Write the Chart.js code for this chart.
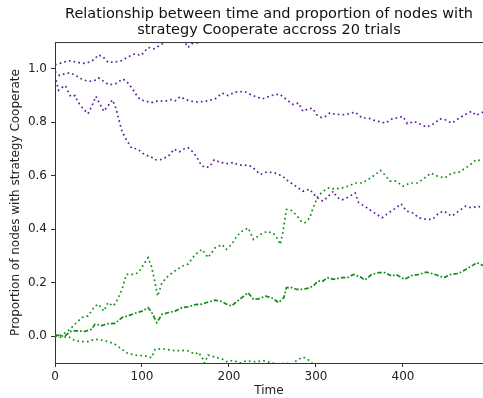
<!DOCTYPE html>
<html>
<head>
<meta charset="utf-8">
<script src="https://cdn.jsdelivr.net/npm/chart.js@4"></script>
<style>
  html, body { margin: 0; padding: 0; background: #fff; overflow: hidden; }
  #wrap { width: 483px; height: 398px; }
</style>
</head>
<body>
<div id="wrap"><canvas id="trialChart" width="483" height="398"></canvas></div>
<script>
// proportion of Cooperate nodes over time, pairs of [time, proportion]
const coopUpper = [[0,1.015],[5,1.02],[10,1.025],[17,1.03],[25,1.025],[32,1.02],[40,1.025],[45,1.035],[50,1.052],[55,1.045],[61,1.024],[68,1.025],[76,1.03],[84,1.045],[92,1.056],[99,1.05],[107,1.08],[114,1.075],[122,1.09],[128,1.105],[135,1.115],[142,1.12],[148,1.105],[153,1.08],[158,1.095],[164,1.098],[170,1.115],[180,1.13],[190,1.14],[200,1.15],[215,1.16],[230,1.17],[250,1.19],[270,1.18],[290,1.16],[310,1.15],[330,1.14],[350,1.16],[370,1.17],[390,1.15],[410,1.13],[430,1.14],[450,1.16],[470,1.18],[492,1.19]];
const coopMean = [[0,0.99],[5,0.975],[10,0.98],[17,0.985],[24,0.975],[30,0.963],[38,0.953],[45,0.955],[50,0.966],[55,0.955],[62,0.94],[70,0.945],[78,0.962],[83,0.95],[88,0.93],[93,0.905],[98,0.884],[104,0.88],[110,0.873],[118,0.88],[126,0.878],[133,0.885],[138,0.88],[144,0.896],[150,0.885],[155,0.88],[161,0.876],[172,0.878],[184,0.887],[192,0.909],[199,0.9],[207,0.913],[218,0.915],[226,0.902],[238,0.887],[249,0.9],[258,0.906],[266,0.885],[274,0.866],[280,0.872],[285,0.841],[291,0.85],[296,0.853],[301,0.828],[306,0.818],[311,0.822],[316,0.835],[322,0.83],[333,0.828],[345,0.838],[353,0.816],[360,0.816],[368,0.806],[380,0.797],[387,0.812],[395,0.818],[400,0.822],[405,0.795],[413,0.803],[421,0.791],[427,0.782],[437,0.797],[442,0.813],[448,0.81],[456,0.797],[463,0.812],[471,0.828],[479,0.841],[484,0.826],[492,0.838]];
const coopLower = [[0,0.975],[4,0.92],[8,0.93],[12,0.937],[15,0.915],[18,0.897],[23,0.9],[26,0.878],[30,0.86],[34,0.845],[38,0.832],[43,0.866],[47,0.897],[50,0.878],[56,0.841],[62,0.866],[66,0.884],[70,0.853],[74,0.803],[77,0.766],[82,0.735],[88,0.704],[95,0.7],[103,0.679],[110,0.672],[115,0.66],[121,0.66],[130,0.672],[137,0.7],[143,0.69],[148,0.7],[153,0.705],[158,0.69],[163,0.67],[168,0.64],[173,0.63],[178,0.635],[183,0.66],[190,0.65],[199,0.645],[205,0.65],[211,0.64],[218,0.64],[226,0.635],[236,0.605],[244,0.615],[253,0.61],[261,0.6],[268,0.58],[276,0.563],[285,0.542],[293,0.55],[296,0.536],[302,0.517],[308,0.505],[313,0.52],[320,0.542],[324,0.52],[330,0.51],[337,0.52],[345,0.536],[349,0.5],[356,0.486],[364,0.468],[376,0.443],[383,0.46],[392,0.48],[398,0.495],[404,0.468],[412,0.46],[418,0.443],[427,0.437],[434,0.437],[441,0.46],[447,0.468],[456,0.449],[464,0.468],[472,0.486],[479,0.48],[486,0.486],[492,0.48]];

// the other strategy, same three curves
const otherUpper = [[0,0.0],[8,0.005],[15,0.02],[23,0.045],[31,0.07],[38,0.076],[46,0.113],[50,0.12],[56,0.094],[61,0.126],[67,0.113],[71,0.132],[77,0.175],[82,0.231],[90,0.231],[96,0.238],[102,0.269],[107,0.294],[111,0.26],[115,0.2],[118,0.15],[123,0.2],[130,0.225],[138,0.245],[146,0.262],[153,0.27],[161,0.305],[169,0.325],[176,0.294],[184,0.33],[192,0.343],[197,0.325],[203,0.343],[209,0.374],[215,0.393],[222,0.405],[228,0.362],[236,0.38],[244,0.393],[253,0.38],[259,0.343],[262,0.39],[266,0.474],[272,0.47],[277,0.455],[283,0.43],[287,0.424],[293,0.443],[296,0.474],[302,0.523],[308,0.542],[315,0.555],[322,0.55],[330,0.555],[337,0.561],[345,0.573],[353,0.573],[360,0.586],[368,0.604],[374,0.62],[379,0.604],[385,0.58],[392,0.58],[400,0.561],[408,0.573],[417,0.573],[425,0.592],[432,0.61],[440,0.598],[448,0.592],[456,0.61],[464,0.613],[472,0.629],[480,0.648],[484,0.66],[492,0.655]];
const otherMean = [[0,0.005],[11,0.0],[19,0.02],[27,0.02],[34,0.018],[42,0.026],[46,0.045],[54,0.04],[61,0.047],[69,0.048],[77,0.07],[84,0.076],[92,0.086],[100,0.094],[107,0.107],[111,0.09],[117,0.051],[123,0.082],[130,0.088],[138,0.094],[146,0.107],[153,0.11],[161,0.118],[169,0.12],[176,0.128],[184,0.135],[192,0.13],[197,0.12],[203,0.113],[209,0.13],[217,0.15],[222,0.163],[228,0.138],[234,0.14],[242,0.15],[249,0.144],[257,0.126],[263,0.144],[266,0.182],[272,0.182],[278,0.175],[284,0.175],[291,0.18],[297,0.188],[302,0.206],[308,0.206],[313,0.219],[320,0.213],[330,0.219],[337,0.22],[343,0.231],[351,0.222],[356,0.21],[364,0.231],[372,0.238],[379,0.238],[387,0.225],[392,0.231],[402,0.213],[410,0.227],[418,0.231],[427,0.24],[437,0.231],[447,0.219],[455,0.231],[464,0.235],[472,0.25],[480,0.265],[485,0.275],[492,0.265]];
const otherLower = [[0,0.0],[8,-0.005],[15,0.0],[23,-0.017],[31,-0.02],[38,-0.02],[46,-0.011],[54,-0.015],[61,-0.02],[69,-0.03],[77,-0.049],[84,-0.065],[94,-0.071],[103,-0.073],[111,-0.08],[115,-0.049],[123,-0.047],[130,-0.05],[138,-0.054],[146,-0.053],[153,-0.055],[161,-0.067],[165,-0.06],[170,-0.085],[172,-0.1],[176,-0.07],[181,-0.075],[186,-0.08],[192,-0.085],[197,-0.095],[205,-0.09],[212,-0.1],[220,-0.092],[230,-0.095],[240,-0.092],[250,-0.1],[258,-0.105],[265,-0.1],[272,-0.105],[278,-0.09],[285,-0.078],[290,-0.085],[295,-0.1],[302,-0.115],[320,-0.12],[350,-0.13],[380,-0.14],[410,-0.13],[440,-0.14],[470,-0.15],[492,-0.14]];

const xTicks = [0, 100, 200, 300, 400];
const yTicks = [0.0, 0.2, 0.4, 0.6, 0.8, 1.0];

const PURPLE = '#5c1ea0';
const GREEN = '#138c13';
const DOTTED = [1.7, 3.1];
const DASHDOT = [4.5, 2, 1.7, 2];

function series(pairs, color, dash) {
  return {
    data: pairs.map(p => ({ x: p[0], y: p[1] })),
    borderColor: color,
    borderWidth: 1.7,
    borderDash: dash,
    pointRadius: 0,
    tension: 0,
    fill: false
  };
}

// top spine of the axes box
const frameTop = {
  id: 'frameTop',
  afterDraw(chart) {
    const { ctx, chartArea } = chart;
    ctx.save();
    ctx.strokeStyle = '#333';
    ctx.lineWidth = 1;
    ctx.beginPath();
    ctx.moveTo(chartArea.left, chartArea.top + 0.5);
    ctx.lineTo(chartArea.right, chartArea.top + 0.5);
    ctx.stroke();
    ctx.restore();
  }
};

const font = { family: '"DejaVu Sans", sans-serif', size: 12 };

new Chart(document.getElementById('trialChart'), {
  type: 'line',
  data: {
    datasets: [
      series(coopUpper, PURPLE, DOTTED),
      series(coopMean, PURPLE, DOTTED),
      series(coopLower, PURPLE, DOTTED),
      series(otherUpper, GREEN, DOTTED),
      series(otherMean, GREEN, DASHDOT),
      series(otherLower, GREEN, DOTTED)
    ]
  },
  options: {
    responsive: false,
    animation: false,
    layout: { padding: 0 },
    plugins: {
      legend: { display: false },
      tooltip: { enabled: false },
      title: {
        display: true,
        fullSize: false,
        text: ['Relationship between time and proportion of nodes with',
               'strategy Cooperate accross 20 trials'],
        color: '#111',
        font: { family: '"DejaVu Sans", sans-serif', size: 14.5, weight: 'normal', lineHeight: 1.05 },
        padding: { top: 7, bottom: 4.6 }
      }
    },
    scales: {
      x: {
        type: 'linear',
        min: 0,
        max: 492,
        afterBuildTicks: s => { s.ticks = xTicks.map(v => ({ value: v })); },
        afterFit: s => { s.height = 35; },
        grid: { drawOnChartArea: false, tickLength: 4, color: '#333' },
        border: { color: '#333', width: 1 },
        ticks: { color: '#222', font, padding: 3, maxRotation: 0 },
        title: { display: true, text: 'Time', color: '#222', font, padding: { top: 3, bottom: 0 } }
      },
      y: {
        type: 'linear',
        min: -0.1,
        max: 1.1,
        afterBuildTicks: s => { s.ticks = yTicks.map(v => ({ value: v })); },
        afterFit: s => { s.width = 55; },
        grid: { drawOnChartArea: false, tickLength: 4, color: '#333' },
        border: { color: '#333', width: 1 },
        ticks: { color: '#222', font, padding: 4, callback: v => v.toFixed(1) },
        title: {
          display: true,
          text: 'Proportion of nodes with strategy Cooperate',
          color: '#222',
          font,
          padding: { top: 9, bottom: 0 }
        }
      }
    }
  },
  plugins: [frameTop]
});
</script>
</body>
</html>
